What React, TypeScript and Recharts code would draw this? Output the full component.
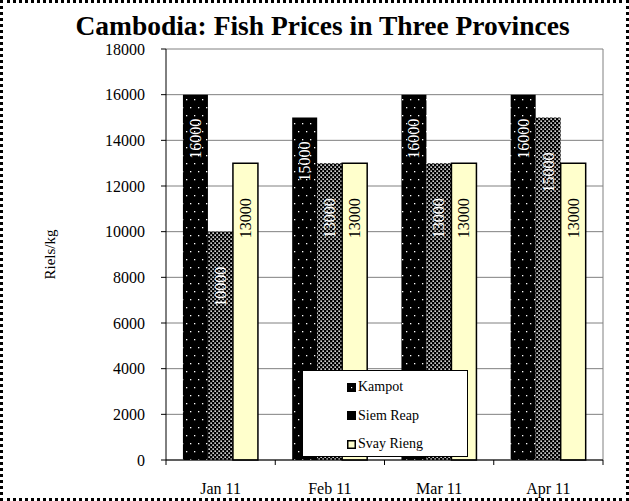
import { BarChart, Bar, XAxis, YAxis, CartesianGrid, Legend, LabelList, Label } from 'recharts';

// Cambodia fish prices (Riels/kg), Jan–Apr 2011
const categories = ['Jan 11', 'Feb 11', 'Mar 11', 'Apr 11'];
const kampot = [16000, 15000, 16000, 16000];
const siemReap = [10000, 13000, 13000, 15000];
const svayRieng = [13000, 13000, 13000, 13000];
const yTicks = [0, 2000, 4000, 6000, 8000, 10000, 12000, 14000, 16000, 18000];

const data = categories.map((month, i) => ({
  month,
  kampot: kampot[i],
  siemReap: siemReap[i],
  svayRieng: svayRieng[i],
}));

const serif = '"Liberation Serif", "Times New Roman", serif';

const series = [
  { key: 'kampot', name: 'Kampot', fill: 'url(#dotsSparse)', stroke: 'none', text: '#fff', pad: 24 },
  { key: 'siemReap', name: 'Siem Reap', fill: 'url(#dotsDense)', stroke: 'none', text: '#fff', pad: 35 },
  { key: 'svayRieng', name: 'Svay Rieng', fill: '#FFFFCC', stroke: '#000', text: '#000', pad: 35 },
];

// rotated value label, reading bottom-to-top, hanging just under the bar top
const barLabel = (color: string, pad: number) => (props: any) => {
  const { x = 0, y = 0, width = 0, value } = props;
  const cx = Number(x) + Number(width) / 2;
  const cy = Number(y) + pad;
  return (
    <text
      x={cx}
      y={cy}
      transform={`rotate(-90, ${cx}, ${cy})`}
      textAnchor="end"
      dominantBaseline="central"
      fill={color}
      fontSize={16}
      fontFamily={serif}
    >
      {value}
    </text>
  );
};

// Excel-style ticks between categories
const MonthTick = (props: any) => {
  const { x, y, payload, index, visibleTicksCount } = props;
  const half = payload.offset ?? 0;
  const axisY = y - 18 - 5;
  const last = index === visibleTicksCount - 1;
  return (
    <g>
      <line x1={x - half} x2={x - half} y1={axisY} y2={axisY + 5} stroke="#000" />
      {last && <line x1={x + half} x2={x + half} y1={axisY} y2={axisY + 5} stroke="#000" />}
      <text x={x} y={y} dy="0.71em" textAnchor="middle" fill="#000" fontSize={16} fontFamily={serif}>
        {payload.value}
      </text>
    </g>
  );
};

const Swatch = ({ k }: { k: string }) => {
  if (k === 'svayRieng') {
    return (
      <svg width={9} height={9} style={{ marginRight: 2 }}>
        <rect x={0.75} y={0.75} width={7.5} height={7.5} fill="#FFFFCC" stroke="#000" strokeWidth={1.5} />
      </svg>
    );
  }
  return (
    <svg width={9} height={9} style={{ marginRight: 2 }}>
      <rect x={0} y={0} width={9} height={9} fill="#000" />
      {k === 'kampot' && <rect x={4} y={4} width={1.2} height={1.2} fill="#fff" />}
    </svg>
  );
};

const LegendBox = () => (
  <div
    style={{
      boxSizing: 'border-box',
      width: 166,
      height: 87,
      background: '#fff',
      border: '1px solid #000',
      paddingLeft: 44,
      paddingTop: 2,
      fontFamily: serif,
      fontSize: 14,
      color: '#000',
    }}
  >
    {series.map((s) => (
      <div key={s.key} style={{ display: 'flex', alignItems: 'center', height: 28.5 }}>
        <Swatch k={s.key} />
        <span>{s.name}</span>
      </div>
    ))}
  </div>
);

export default function App() {
  return (
    <div style={{ position: 'absolute', left: 0, top: 0, width: 629, height: 501, background: '#fff' }}>
      <div
        style={{
          position: 'absolute',
          left: 16,
          top: 10,
          width: 613,
          textAlign: 'center',
          fontFamily: serif,
          fontWeight: 'bold',
          fontSize: 27.5,
          color: '#000',
          lineHeight: '32px',
        }}
      >
        Cambodia: Fish Prices in Three Provinces
      </div>
      <div style={{ position: 'absolute', left: 0, top: 0 }}>
        <BarChart
          width={629}
          height={501}
          data={data}
          margin={{ top: 49, right: 26, bottom: 11, left: 106 }}
          barCategoryGap="15.5%"
          barGap={0}
        >
          <defs>
            <pattern id="dotsSparse" width={8} height={16} patternUnits="userSpaceOnUse">
              <rect width={8} height={16} fill="#000" />
              <rect x={2} y={3} width={1.3} height={1.3} fill="#fff" />
              <rect x={6} y={11} width={1.3} height={1.3} fill="#fff" />
            </pattern>
            <pattern id="dotsDense" width={4} height={4} patternUnits="userSpaceOnUse">
              <rect width={4} height={4} fill="#000" />
              <rect x={0.4} y={0.4} width={1.5} height={1.5} fill="#fff" />
              <rect x={2.4} y={2.4} width={1.5} height={1.5} fill="#fff" />
            </pattern>
          </defs>
          <CartesianGrid
            stroke="#808080"
            verticalCoordinatesGenerator={({ offset }: any) => [offset.left + offset.width]}
          />
          <XAxis
            dataKey="month"
            height={30}
            axisLine={{ stroke: '#000' }}
            tickLine={false}
            tickSize={5}
            tickMargin={18}
            tick={<MonthTick />}
            interval={0}
          />
          <YAxis
            width={60}
            domain={[0, 18000]}
            ticks={yTicks}
            interval={0}
            axisLine={{ stroke: '#000' }}
            tickLine={{ stroke: '#000' }}
            tickSize={5}
            tickMargin={16}
            tick={{ fontFamily: serif, fontSize: 16, fill: '#000' }}
          >
            <Label
              content={({ viewBox }: any) => {
                const cy = viewBox.y + viewBox.height / 2;
                return (
                  <text
                    x={50}
                    y={cy}
                    transform={`rotate(-90, 50, ${cy})`}
                    textAnchor="middle"
                    dominantBaseline="central"
                    fontSize={15}
                    fontFamily={serif}
                    fill="#000"
                  >
                    Riels/kg
                  </text>
                );
              }}
            />
          </YAxis>
          {series.map((s) => (
            <Bar
              key={s.key}
              dataKey={s.key}
              name={s.name}
              fill={s.fill}
              stroke={s.stroke}
              strokeWidth={s.stroke === 'none' ? 0 : 1.5}
              isAnimationActive={false}
            >
              <LabelList dataKey={s.key} content={barLabel(s.text, s.pad)} />
            </Bar>
          ))}
          <Legend
            layout="vertical"
            align="center"
            verticalAlign="middle"
            content={<LegendBox />}
            wrapperStyle={{ left: 302, top: 370, width: 166, height: 87 }}
          />
        </BarChart>
      </div>
      <div
        style={{
          position: 'absolute',
          left: 0,
          top: 0,
          width: 629,
          height: 501,
          boxSizing: 'border-box',
          border: '3px dotted #000',
          pointerEvents: 'none',
        }}
      />
    </div>
  );
}
